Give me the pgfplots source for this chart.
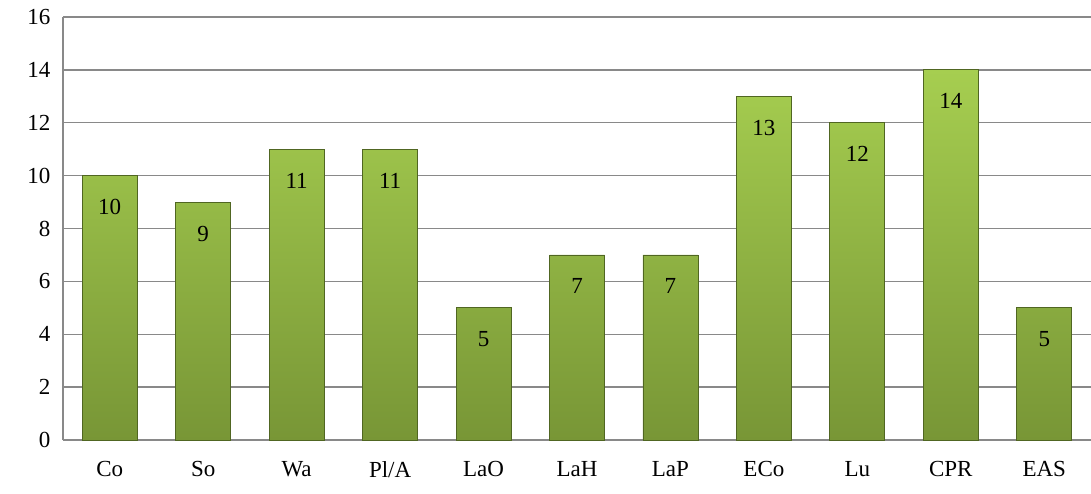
\documentclass[border=0pt]{standalone}
\usepackage{pgfplots}
\pgfplotsset{compat=1.18}
\usepackage{fontspec}
\setmainfont{Liberation Serif}
\definecolor{gridg}{RGB}{137,137,137}
\definecolor{bartop}{RGB}{166,206,80}
\definecolor{barbot}{RGB}{120,150,54}
\definecolor{baredge}{RGB}{80,102,34}
\begin{document}
\begin{tikzpicture}
\begin{axis}[
  scale only axis,
  width=1028pt, height=423pt,
  xmin=-0.5, xmax=10.5,
  ymin=0, ymax=16,
  ytick={0,2,...,16},
  xtick=data,
  xticklabels={Co,So,Wa,Pl/A,LaO,LaH,LaP,ECo,Lu,CPR,EAS},
  ymajorgrids,
  grid style={gridg, line width=1.4pt},
  axis line style={gridg, line width=1.4pt},
  axis x line*=bottom,
  axis y line*=left,
  major tick length=0pt,
  tick style={draw=none},
  ticklabel style={font=\fontsize{23}{27}\selectfont},
  yticklabel style={xshift=-9pt},
  xticklabel style={yshift=-18pt},
  /pgf/number format/assume math mode=true,
  ybar, bar width=55pt,
  nodes near coords,
  every node near coord/.append style={anchor=north, yshift=-20pt, font=\fontsize{23}{27}\selectfont, text=black},
  clip=false,
]
\addplot[draw=baredge, line width=0.8pt, top color=bartop, bottom color=barbot, bar shift=0pt] coordinates {
(0,10) (1,9) (2,11) (3,11) (4,5) (5,7) (6,7) (7,13) (8,12) (9,14) (10,5)};
\end{axis}
\pgfresetboundingbox
\path (-63pt,-53pt) rectangle (1028pt,440pt);
\end{tikzpicture}
\end{document}
